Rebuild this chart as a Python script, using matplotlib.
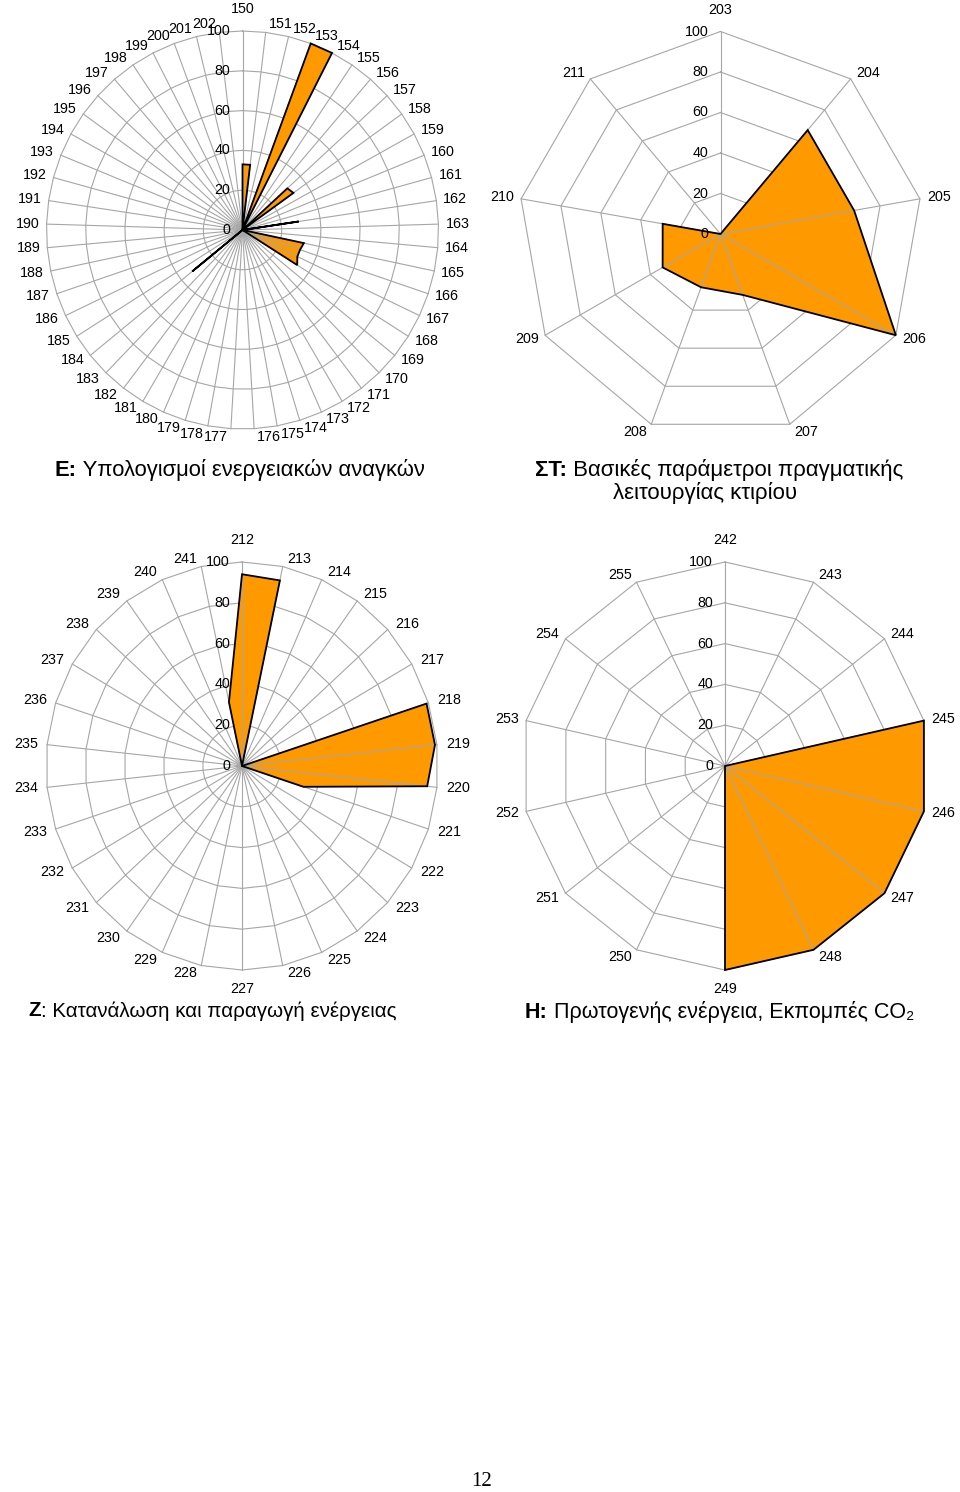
import numpy as np
import matplotlib
matplotlib.use("Agg")
import matplotlib.pyplot as plt

plt.rcParams['font.family'] = ['Liberation Sans', 'DejaVu Sans']

W, H = 960, 1492
ORANGE = '#FF9900'
GRID = '#a6a6a6'
rings = [0, 20, 40, 60, 80, 100]

# E: energy needs
cats_e = list(range(150, 203))
vals_e = [33, 33, 0, 100, 100, 0, 0, 31, 32, 0,
          0, 0, 29, 0, 0, 32, 31, 31, 33, 0,
          0, 0, 0, 0, 0, 0, 0, 0, 0, 0,
          0, 0, 0, 0, 33, 0, 0, 0, 0, 0,
          0, 0, 0, 0, 0, 0, 0, 0, 0, 0,
          0, 0, 0]

# ΣΤ: building operation parameters
cats_st = list(range(203, 212))
vals_st = [0, 67, 67, 100, 32, 28, 33, 29, 0]

# Ζ: energy consumption / production
cats_z = list(range(212, 242))
vals_z = [94, 93, 0, 0, 0, 0, 99, 99, 95, 33,
          0, 0, 0, 0, 0, 0, 0, 0, 0, 0,
          0, 0, 0, 0, 0, 0, 0, 0, 0, 32]

# Η: primary energy, CO2
cats_h = list(range(242, 256))
vals_h = [0, 0, 0, 100, 100, 100, 100, 100, 0, 0, 0, 0, 0, 0]

fig = plt.figure(figsize=(W / 100, H / 100), dpi=100)
bg = fig.add_axes([0, 0, 1, 1])
bg.axis('off')


def radar(cx, cy, rx, ry, cats, vals, gap=7):
    ax = fig.add_axes([(cx - rx) / W, 1 - (cy + ry) / H, 2 * rx / W, 2 * ry / H],
                      projection='polar')
    ax.set_theta_zero_location('N')
    ax.set_theta_direction(-1)
    ax.set_aspect('auto')
    ax.set_ylim(0, 100)
    ax.set_xticks([])
    ax.set_yticks([])
    ax.grid(False)
    ax.spines['polar'].set_visible(False)

    n = len(cats)
    theta = np.arange(n) * 2 * np.pi / n
    closed = np.append(theta, theta[0])
    for r in rings[1:]:
        ax.plot(closed, [r] * (n + 1), color=GRID, lw=0.8, zorder=1, clip_on=False)
    ax.fill(theta, vals, facecolor=ORANGE, edgecolor='none', zorder=2, clip_on=False)
    for t in theta:
        ax.plot([t, t], [0, 100], color=GRID, lw=0.8, zorder=3, clip_on=False)
    ax.fill(theta, vals, facecolor='none', edgecolor='black', lw=1.3, zorder=4,
            clip_on=False)

    for r in rings:
        ax.annotate(str(r), xy=(0, r), xytext=(-12, 0), textcoords='offset pixels',
                    ha='right', va='center', fontsize=10.3, zorder=5,
                    annotation_clip=False)

    for c, t in zip(cats, theta):
        s, co = np.sin(t), np.cos(t)
        if abs(s) < 0.01:
            dx, ha = 0, 'center'
            dy = 22 if co > 0 else -19
        else:
            ha = 'left' if s > 0 else 'right'
            dx = np.sign(s) * (3 + (gap - 3) * abs(s))
            dy = 8 * co
        ax.annotate(str(c), xy=(t, 100), xytext=(dx, dy), textcoords='offset pixels',
                    ha=ha, va='center', fontsize=10.3, zorder=5,
                    annotation_clip=False)
    return ax


radar(242.5, 230, 196, 199, cats_e, vals_e)
radar(720.5, 234, 202.5, 202.5, cats_st, vals_st)
radar(242, 766, 196, 204, cats_z, vals_z, gap=9)
radar(725, 766, 204, 204, cats_h, vals_h)


def title(x, y, bold, rest, size=15.8):
    t1 = bg.text(x / W, 1 - y / H, bold, fontsize=size, weight='bold',
                 ha='left', va='center', transform=bg.transAxes)
    bg.annotate(rest, xy=(1, 0.5), xycoords=t1, ha='left', va='center',
                fontsize=size)


title(55, 470, 'Ε:', ' Υπολογισμοί ενεργειακών αναγκών')
title(535, 470, 'ΣΤ:', ' Βασικές παράμετροι πραγματικής', size=16)
bg.text(613 / W, 1 - 493 / H, 'λειτουργίας κτιρίου', fontsize=16,
        ha='left', va='center', transform=bg.transAxes)
title(28, 1011, 'Ζ', ': Κατανάλωση και παραγωγή ενέργειας', size=14.8)
title(525, 1012, 'Η:', ' Πρωτογενής ενέργεια, Εκπομπές CO₂', size=15.5)

bg.text(482 / W, 1 - 1482 / H, '12', fontsize=15, family='Liberation Serif',
        ha='center', va='center', transform=bg.transAxes)

fig.savefig('out.png', dpi=100)
